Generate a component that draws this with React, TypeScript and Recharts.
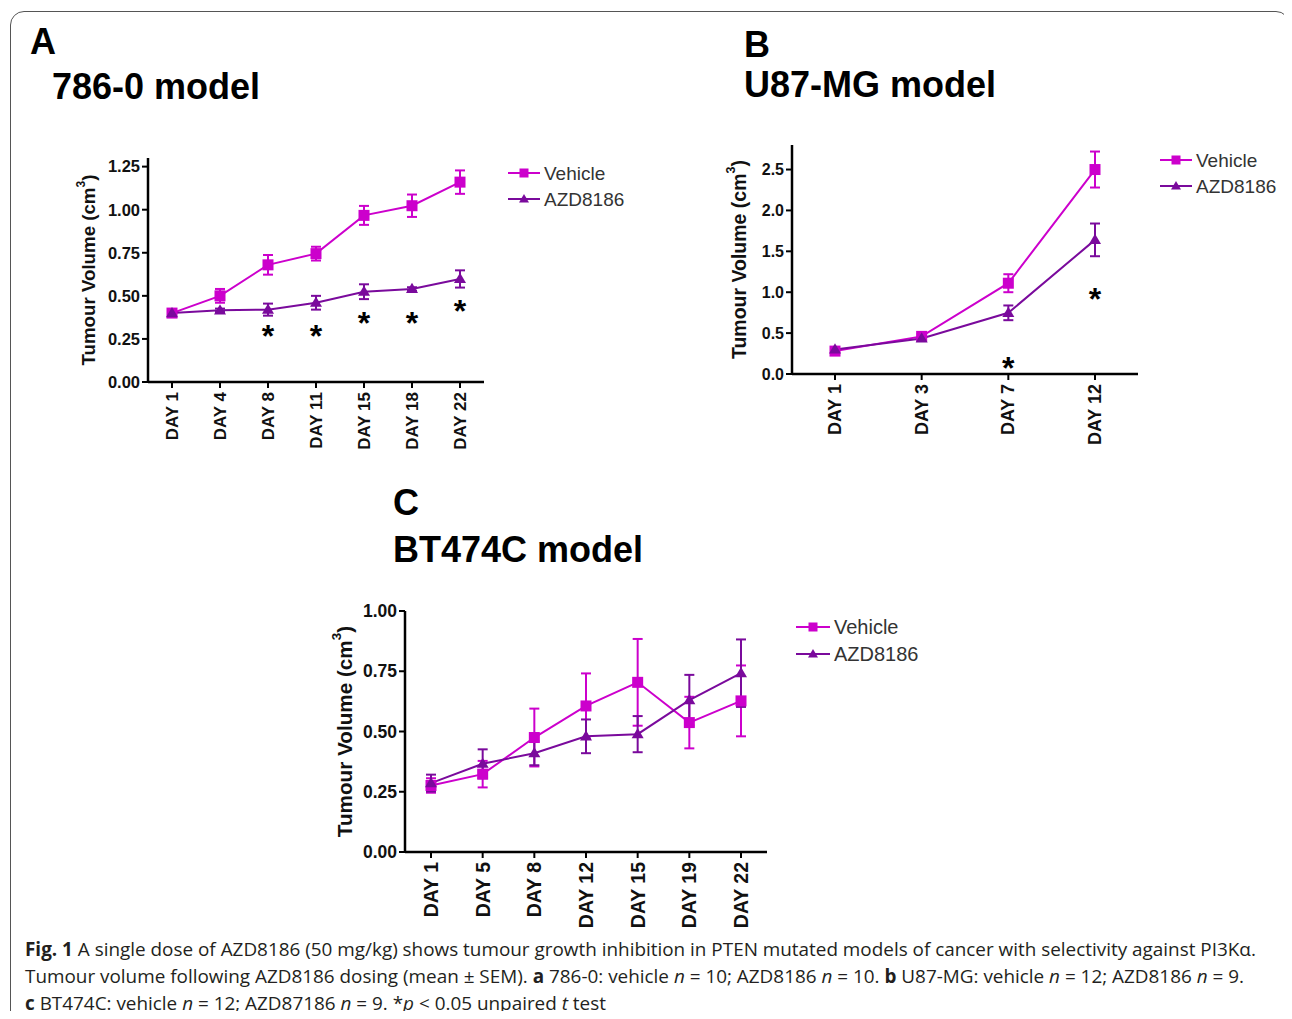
import React from 'react';
import { LineChart, Line, XAxis, YAxis, ErrorBar, Label } from 'recharts';

const VEHICLE = '#CC00CC';
const AZD = '#7A0A9C';
const INK = '#111111';

// Panel A: 786-0 model
const daysA = ['DAY 1', 'DAY 4', 'DAY 8', 'DAY 11', 'DAY 15', 'DAY 18', 'DAY 22'];
const vehicleA = [0.4, 0.5, 0.68, 0.745, 0.967, 1.023, 1.16];
const vehicleErrA = [0.02, 0.04, 0.057, 0.04, 0.055, 0.065, 0.068];
const azdA = [0.4, 0.416, 0.42, 0.46, 0.524, 0.54, 0.598];
const azdErrA = [0.02, 0.01, 0.035, 0.04, 0.043, 0.01, 0.05];
const starsA = [null, null, 0.31, 0.31, 0.38, 0.38, 0.45];
const ticksA = [0, 0.25, 0.5, 0.75, 1, 1.25];

// Panel B: U87-MG model
const daysB = ['DAY 1', 'DAY 3', 'DAY 7', 'DAY 12'];
const vehicleB = [0.28, 0.46, 1.11, 2.5];
const vehicleErrB = [0.02, 0.03, 0.11, 0.22];
const azdB = [0.3, 0.435, 0.748, 1.64];
const azdErrB = [0.02, 0.03, 0.09, 0.2];
const starsB = [null, null, 0.16, 1.0];
const ticksB = [0, 0.5, 1, 1.5, 2, 2.5];

// Panel C: BT474C model
const daysC = ['DAY 1', 'DAY 5', 'DAY 8', 'DAY 12', 'DAY 15', 'DAY 19', 'DAY 22'];
const vehicleC = [0.276, 0.323, 0.475, 0.606, 0.704, 0.537, 0.627];
const vehicleErrC = [0.03, 0.055, 0.12, 0.135, 0.18, 0.107, 0.147];
const azdC = [0.286, 0.366, 0.41, 0.48, 0.489, 0.63, 0.742];
const azdErrC = [0.035, 0.06, 0.05, 0.07, 0.075, 0.105, 0.14];
const ticksC = [0, 0.25, 0.5, 0.75, 1];

const rows = (
  days: string[],
  v: number[],
  ve: number[],
  a: number[],
  ae: number[],
  stars?: (number | null)[],
) =>
  days.map((day, i) => ({
    day,
    vehicle: v[i],
    vehicleErr: ve[i],
    azd: a[i],
    azdErr: ae[i],
    star: stars ? stars[i] : null,
  }));

const Square = (props: any) => {
  const { cx, cy, size = 10, fill } = props;
  if (cx == null || cy == null) return null;
  return <rect x={cx - size / 2} y={cy - size / 2} width={size} height={size} fill={fill} />;
};

const Triangle = (props: any) => {
  const { cx, cy, size = 11, fill } = props;
  if (cx == null || cy == null) return null;
  const h = size * 0.85;
  return (
    <polygon
      points={`${cx},${cy - h * 0.6} ${cx - size / 2},${cy + h * 0.4} ${cx + size / 2},${cy + h * 0.4}`}
      fill={fill}
    />
  );
};

const Star = (props: any) => {
  const { cx, cy, value } = props;
  if (cx == null || cy == null || value == null) return null;
  const fs = 32;
  return (
    <text
      x={cx}
      y={cy + fs * 0.56}
      textAnchor="middle"
      fontFamily="'Liberation Sans', Arial, sans-serif"
      fontWeight="bold"
      fontSize={fs}
      fill="#000"
    >
      *
    </text>
  );
};

const DayTick = (props: any) => {
  const { x, y, payload, fontSize } = props;
  return (
    <text
      x={x}
      y={y + 2}
      transform={`rotate(-90 ${x} ${y + 2})`}
      textAnchor="end"
      dominantBaseline="central"
      fontFamily="'Liberation Sans', Arial, sans-serif"
      fontWeight="bold"
      fontSize={fontSize}
      fill={INK}
    >
      {payload.value}
    </text>
  );
};

const yTitle = (dx: number, fs: number) => (props: any) => {
  const { x, y, height } = props.viewBox;
  const cx = x + dx;
  const cy = y + height / 2;
  return (
    <text
      x={cx}
      y={cy}
      transform={`rotate(-90 ${cx} ${cy})`}
      textAnchor="middle"
      dominantBaseline="central"
      fontFamily="'Liberation Sans', Arial, sans-serif"
      fontWeight="bold"
      fontSize={fs}
      fill={INK}
    >
      Tumour Volume (cm
      <tspan dy={-fs * 0.4} fontSize={fs * 0.65}>
        3
      </tspan>
      <tspan dy={fs * 0.4}>)</tspan>
    </text>
  );
};

type PanelProps = {
  data: any[];
  left: number;
  top: number;
  yWidth: number;
  plotW: number;
  plotH: number;
  marginTop: number;
  pad: number;
  domainMax: number;
  ticks: number[];
  digits: number;
  yTickFs: number;
  xTickFs: number;
  titleFs: number;
  titleDx: number;
  xHeight: number;
};

const Panel = (p: PanelProps) => (
  <div style={{ position: 'absolute', left: p.left, top: p.top }}>
    <LineChart
      width={p.yWidth + p.plotW + 10}
      height={p.marginTop + p.plotH + p.xHeight}
      data={p.data}
      margin={{ top: p.marginTop, right: 10, bottom: 0, left: 0 }}
    >
      <XAxis
        dataKey="day"
        height={p.xHeight}
        padding={{ left: p.pad, right: p.pad }}
        axisLine={{ stroke: '#000', strokeWidth: 2.5 }}
        tickLine={{ stroke: '#000', strokeWidth: 2 }}
        tickSize={6}
        interval={0}
        tick={<DayTick fontSize={p.xTickFs} />}
      />
      <YAxis
        width={p.yWidth}
        domain={[0, p.domainMax]}
        ticks={p.ticks}
        allowDataOverflow
        axisLine={{ stroke: '#000', strokeWidth: 2.5 }}
        tickLine={{ stroke: '#000', strokeWidth: 2 }}
        tickSize={6}
        tickFormatter={(v: number) => v.toFixed(p.digits)}
        tick={{
          fill: INK,
          fontSize: p.yTickFs,
          fontWeight: 'bold',
          fontFamily: "'Liberation Sans', Arial, sans-serif",
        }}
      >
        <Label content={yTitle(p.titleDx, p.titleFs)} />
      </YAxis>
      <Line
        dataKey="vehicle"
        stroke={VEHICLE}
        strokeWidth={2}
        isAnimationActive={false}
        dot={<Square fill={VEHICLE} size={11} />}
        activeDot={false}
      >
        <ErrorBar dataKey="vehicleErr" width={5} stroke={VEHICLE} strokeWidth={2} direction="y" />
      </Line>
      <Line
        dataKey="azd"
        stroke={AZD}
        strokeWidth={2}
        isAnimationActive={false}
        dot={<Triangle fill={AZD} size={12} />}
        activeDot={false}
      >
        <ErrorBar dataKey="azdErr" width={5} stroke={AZD} strokeWidth={2} direction="y" />
      </Line>
      <Line
        dataKey="star"
        stroke="none"
        isAnimationActive={false}
        dot={<Star />}
        activeDot={false}
        legendType="none"
      />
    </LineChart>
  </div>
);

const LegendBox = ({ left, top, fs, gap, lineW }: { left: number; top: number; fs: number; gap: number; lineW: number }) => {
  const items = [
    { name: 'Vehicle', color: VEHICLE, shape: 'square' },
    { name: 'AZD8186', color: AZD, shape: 'triangle' },
  ];
  return (
    <svg style={{ position: 'absolute', left, top }} width={160} height={gap * 2 + 10}>
      {items.map((it, i) => {
        const y = 13 + i * gap;
        const mx = 3 + lineW / 2;
        return (
          <g key={it.name}>
            <line x1={3} x2={3 + lineW} y1={y} y2={y} stroke={it.color} strokeWidth={2} />
            {it.shape === 'square' ? (
              <Square cx={mx} cy={y} size={9} fill={it.color} />
            ) : (
              <Triangle cx={mx} cy={y} size={10} fill={it.color} />
            )}
            <text
              x={lineW + 7}
              y={y}
              dominantBaseline="central"
              fontFamily="'Liberation Sans', Arial, sans-serif"
              fontSize={fs}
              fill="#333"
            >
              {it.name}
            </text>
          </g>
        );
      })}
    </svg>
  );
};

const titleStyle = (left: number, top: number): React.CSSProperties => ({
  position: 'absolute',
  left,
  top,
  fontFamily: "'Liberation Sans', Arial, sans-serif",
  fontWeight: 'bold',
  fontSize: 36,
  lineHeight: '36px',
  color: '#000',
  whiteSpace: 'nowrap',
});

export default function App() {
  return (
    <div
      style={{
        position: 'relative',
        width: 1292,
        height: 1019,
        margin: -8,
        overflow: 'hidden',
        background: '#fff',
      }}
    >
      <div
        style={{
          position: 'absolute',
          left: 10,
          top: 11,
          width: 1278,
          height: 1100,
          border: '1.5px solid #555',
          borderRadius: 14,
        }}
      />
      <div style={titleStyle(30, 24)}>A</div>
      <div style={titleStyle(52, 69)}>786-0 model</div>
      <div style={titleStyle(744, 27)}>B</div>
      <div style={titleStyle(744, 67)}>U87-MG model</div>
      <div style={titleStyle(393, 485)}>C</div>
      <div style={titleStyle(393, 532)}>BT474C model</div>

      <Panel
        data={rows(daysA, vehicleA, vehicleErrA, azdA, azdErrA, starsA)}
        left={60}
        top={140}
        yWidth={88}
        plotW={336}
        plotH={224}
        marginTop={18}
        pad={24}
        domainMax={1.3}
        ticks={ticksA}
        digits={2}
        yTickFs={16.5}
        xTickFs={17}
        titleFs={18.7}
        titleDx={28}
        xHeight={75}
      />
      <LegendBox left={505} top={160} fs={19} gap={26} lineW={32} />

      <Panel
        data={rows(daysB, vehicleB, vehicleErrB, azdB, azdErrB, starsB)}
        left={712}
        top={130}
        yWidth={80}
        plotW={346}
        plotH={229}
        marginTop={15}
        pad={43}
        domainMax={2.8}
        ticks={ticksB}
        digits={1}
        yTickFs={16}
        xTickFs={18}
        titleFs={19.5}
        titleDx={27}
        xHeight={75}
      />
      <LegendBox left={1157} top={147} fs={19} gap={26} lineW={32} />

      <Panel
        data={rows(daysC, vehicleC, vehicleErrC, azdC, azdErrC)}
        left={325}
        top={596}
        yWidth={80}
        plotW={362}
        plotH={241}
        marginTop={15}
        pad={26}
        domainMax={1}
        ticks={ticksC}
        digits={2}
        yTickFs={17.5}
        xTickFs={19.5}
        titleFs={20.7}
        titleDx={19}
        xHeight={80}
      />
      <LegendBox left={793} top={614} fs={20} gap={27} lineW={34} />

      <div
        style={{
          position: 'absolute',
          left: 25,
          top: 936,
          width: 1262,
          fontFamily: "'Open Sans', sans-serif",
          fontSize: 18.9,
          lineHeight: '27px',
          color: '#231f20',
          whiteSpace: 'nowrap',
        }}
      >
        <b>Fig. 1</b> A single dose of AZD8186 (50 mg/kg) shows tumour growth inhibition in PTEN mutated models of
        cancer with selectivity against PI3Kα.
        <br />
        Tumour volume following AZD8186 dosing (mean ± SEM). <b>a</b> 786-0: vehicle <i>n</i> = 10; AZD8186{' '}
        <i>n</i> = 10. <b>b</b> U87-MG: vehicle <i>n</i> = 12; AZD8186 <i>n</i> = 9.
        <br />
        <b>c</b> BT474C: vehicle <i>n</i> = 12; AZD87186 <i>n</i> = 9. *<i>p</i> &lt; 0.05 unpaired <i>t</i> test
      </div>
    </div>
  );
}
